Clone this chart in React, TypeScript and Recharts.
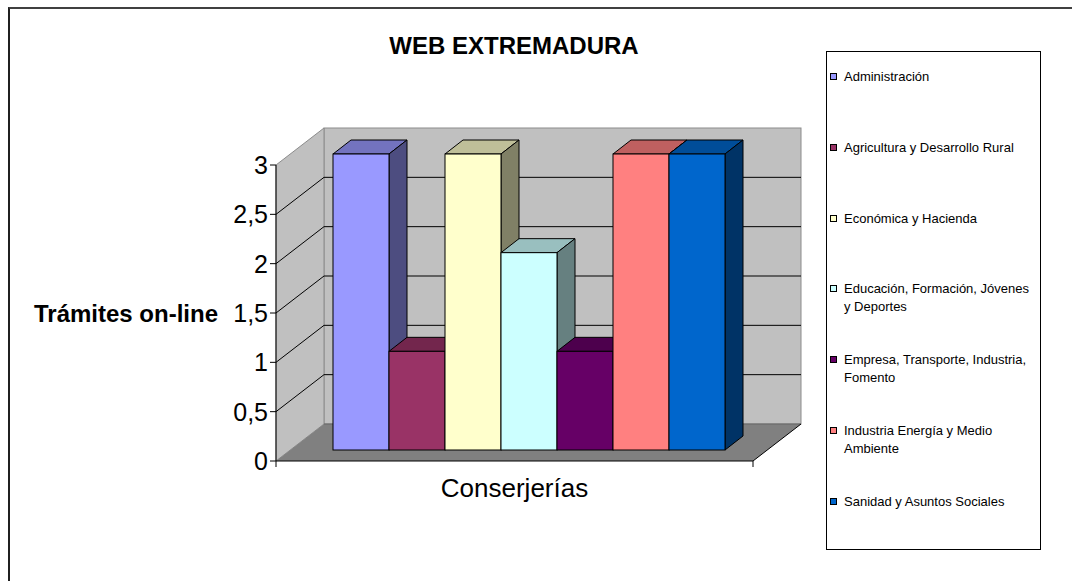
import React from "react";
import { BarChart, Bar, XAxis, YAxis, CartesianGrid } from "recharts";

const categories = ["Conserjerías"];
const seriesNames = [
  "Administración",
  "Agricultura y Desarrollo Rural",
  "Económica y Hacienda",
  "Educación, Formación, Jóvenes y Deportes",
  "Empresa, Transporte, Industria, Fomento",
  "Industria Energía y Medio Ambiente",
  "Sanidad y Asuntos Sociales",
];
const seriesValues = [3, 1, 3, 2, 1, 3, 3];
const seriesColors = ["#9999FF", "#993366", "#FFFFCC", "#CCFFFF", "#660066", "#FF8080", "#0066CC"];
const yTicks = [0, 0.5, 1, 1.5, 2, 2.5, 3];

const data = categories.map((c) => {
  const row: Record<string, string | number> = { category: c };
  seriesNames.forEach((_, i) => {
    row[`s${i}`] = seriesValues[i];
  });
  return row;
});

const FONT = '"Liberation Sans", Arial, sans-serif';

// depth of the 3D box (walls) and of the bars
const WALL_DX = 48;
const WALL_DY = 37;
const BAR_SHIFT_X = 14;
const BAR_SHIFT_Y = 11;
const BAR_DX = 18;
const BAR_DY = 14;

// fallback plot area if the grid does not hand it over
const PLOT = { x: 276, y: 165, width: 477, height: 296 };

function shade(hex: string, f: number) {
  const n = parseInt(hex.slice(1), 16);
  const r = Math.round(((n >> 16) & 255) * f);
  const g = Math.round(((n >> 8) & 255) * f);
  const b = Math.round((n & 255) * f);
  return `rgb(${r},${g},${b})`;
}

const Bar3D = (props: any) => {
  const { x, y, width, height, fill } = props;
  if (width == null || height == null) return null;
  const fx = x + BAR_SHIFT_X;
  const fy = y - BAR_SHIFT_Y;
  const top = `${fx},${fy} ${fx + BAR_DX},${fy - BAR_DY} ${fx + width + BAR_DX},${fy - BAR_DY} ${fx + width},${fy}`;
  const side = `${fx + width},${fy} ${fx + width + BAR_DX},${fy - BAR_DY} ${fx + width + BAR_DX},${fy + height - BAR_DY} ${fx + width},${fy + height}`;
  return (
    <g>
      <polygon points={top} fill={shade(fill, 0.75)} stroke="#000" strokeWidth={1} strokeLinejoin="round" />
      <polygon points={side} fill={shade(fill, 0.5)} stroke="#000" strokeWidth={1} strokeLinejoin="round" />
      <rect x={fx} y={fy} width={width} height={height} fill={fill} stroke="#000" strokeWidth={1} />
    </g>
  );
};

const renderGridLine = (p: any) => {
  const left = p.x ?? PLOT.x;
  const top = p.y ?? PLOT.y;
  const width = p.width ?? PLOT.width;
  const height = p.height ?? PLOT.height;
  const right = left + width;
  const bottom = top + height;
  const yy = p.y1;
  const isEdge = Math.abs(yy - top) < 0.5 || Math.abs(yy - bottom) < 0.5;
  return (
    <g key={p.key ?? `gl-${p.index}`}>
      {p.index === 0 && (
        <g>
          <rect x={left + WALL_DX} y={top - WALL_DY} width={width} height={height} fill="#C0C0C0" stroke="#8C8C8C" />
          <polygon
            points={`${left},${top} ${left + WALL_DX},${top - WALL_DY} ${left + WALL_DX},${bottom - WALL_DY} ${left},${bottom}`}
            fill="#C0C0C0"
            stroke="#8C8C8C"
          />
          <polygon
            points={`${left},${bottom} ${left + WALL_DX},${bottom - WALL_DY} ${right + WALL_DX},${bottom - WALL_DY} ${right},${bottom}`}
            fill="#808080"
            stroke="none"
          />
          <line x1={left + WALL_DX} y1={bottom - WALL_DY} x2={right + WALL_DX} y2={bottom - WALL_DY} stroke="#666" />
          <line x1={right} y1={bottom} x2={right + WALL_DX} y2={bottom - WALL_DY} stroke="#000" />
          <line x1={left} y1={bottom} x2={left} y2={bottom + 6} stroke="#000" />
          <line x1={right} y1={bottom} x2={right} y2={bottom + 6} stroke="#000" />
        </g>
      )}
      {!isEdge && (
        <g>
          <line x1={left} y1={yy} x2={left + WALL_DX} y2={yy - WALL_DY} stroke="#000" />
          <line x1={left + WALL_DX} y1={yy - WALL_DY} x2={right + WALL_DX} y2={yy - WALL_DY} stroke="#000" />
        </g>
      )}
    </g>
  );
};

export default function App() {
  return (
    <div
      style={{
        position: "fixed",
        left: 0,
        top: 0,
        width: 1072,
        height: 581,
        background: "#fff",
        overflow: "hidden",
        fontFamily: FONT,
      }}
    >
      {/* outer chart border, right/bottom edges fall outside the picture */}
      <div
        style={{
          position: "absolute",
          left: 8,
          top: 7,
          width: 1100,
          height: 600,
          borderTop: "2px solid #404040",
          borderLeft: "2px solid #202020",
        }}
      />
      <div
        style={{
          position: "absolute",
          left: 0,
          top: 31,
          width: 1028,
          textAlign: "center",
          fontSize: 24,
          fontWeight: "bold",
          lineHeight: "30px",
          color: "#000",
        }}
      >
        WEB EXTREMADURA
      </div>

      <div style={{ position: "absolute", left: 0, top: 0 }}>
        <BarChart
          width={1072}
          height={581}
          data={data}
          margin={{ top: 165, right: 319, bottom: 60, left: 0 }}
          barGap={0}
          barSize={56}
        >
          <CartesianGrid vertical={false} horizontal={renderGridLine} fill="none" />
          <XAxis
            dataKey="category"
            height={60}
            axisLine={{ stroke: "#000" }}
            tickLine={false}
            tickMargin={12}
            tick={{ fontSize: 26, fill: "#000", fontFamily: FONT }}
          />
          <YAxis
            width={276}
            domain={[0, 3]}
            ticks={yTicks}
            interval={0}
            axisLine={{ stroke: "#000" }}
            tickLine={{ stroke: "#000" }}
            tickSize={6}
            tickMargin={2}
            tick={{ fontSize: 25, fill: "#000", fontFamily: FONT }}
            tickFormatter={(v: number) => String(v).replace(".", ",")}
            label={{
              value: "Trámites on-line",
              position: "insideRight",
              offset: 58,
              fontSize: 24,
              fontWeight: "bold",
              fill: "#000",
              fontFamily: FONT,
            }}
          />
          {seriesNames.map((name, i) => (
            <Bar
              key={name}
              dataKey={`s${i}`}
              name={name}
              fill={seriesColors[i]}
              shape={Bar3D}
              isAnimationActive={false}
            />
          ))}
        </BarChart>
      </div>

      <div
        style={{
          position: "absolute",
          left: 826,
          top: 51,
          width: 215,
          height: 499,
          border: "1px solid #000",
          boxSizing: "border-box",
          background: "#fff",
        }}
      >
        {seriesNames.map((name, i) => (
          <div
            key={name}
            style={{ position: "absolute", left: 0, top: 16 + i * 70.8, width: 213 }}
          >
            <div
              style={{
                position: "absolute",
                left: 3,
                top: 5,
                width: 7,
                height: 7,
                boxSizing: "border-box",
                border: "1px solid #000",
                background: seriesColors[i],
              }}
            />
            <div
              style={{
                marginLeft: 17,
                width: 194,
                fontSize: 13,
                lineHeight: "18px",
                color: "#000",
              }}
            >
              {name}
            </div>
          </div>
        ))}
      </div>
    </div>
  );
}
